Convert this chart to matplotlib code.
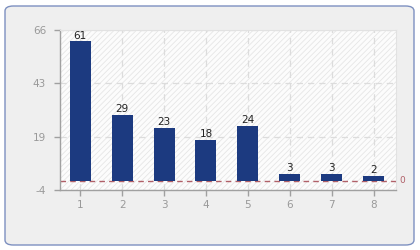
import matplotlib

matplotlib.use("Agg")
import matplotlib.pyplot as plt
from matplotlib.patches import FancyBboxPatch, Rectangle

categories = [1, 2, 3, 4, 5, 6, 7, 8]
values = [61, 29, 23, 18, 24, 3, 3, 2]
y_ticks = [-4, 19, 43, 66]

plt.rcParams["hatch.linewidth"] = 0.6
plt.rcParams["axes.unicode_minus"] = False

fig = plt.figure(figsize=(4.2, 2.5), dpi=100)

# rounded panel behind the chart
panel = FancyBboxPatch((5 / 420, 5 / 250), 409 / 420, 239 / 250,
                       boxstyle="round,pad=0,rounding_size=0.02",
                       transform=fig.transFigure, facecolor="#efefef",
                       edgecolor="#7d90c0", linewidth=1.0, zorder=-5)
fig.patches.append(panel)

ax = fig.add_axes([60 / 420, 60 / 250, 336 / 420, 160 / 250])
ax.set_zorder(2)
ax.set_facecolor("#fcfcfc")
# faint diagonal hatching in the plot area
ax.add_patch(Rectangle((0, 0), 1, 1, transform=ax.transAxes, facecolor="none",
                       edgecolor="#e6e6e6", hatch="//////", linewidth=0, zorder=0))

ax.set_xlim(0.52, 8.53)
ax.set_ylim(-4, 66)
ax.set_xticks(categories)
ax.set_yticks(y_ticks)

ax.grid(True, color="#dcdcdc", linestyle=(0, (5, 4)), linewidth=0.9, zorder=1)
ax.set_axisbelow(True)

bars = ax.bar(categories, values, width=0.5, color="#1c3a80", zorder=3)
for x, v in zip(categories, values):
    ax.text(x, v + 0.4, str(v), ha="center", va="bottom", fontsize=7.5, color="#222222", zorder=4)

# zero reference line
ax.axhline(0, color="#b06068", linestyle=(0, (4, 3)), linewidth=1.0, zorder=2)
ax.text(8.6, 0, "0", color="#b06068", fontsize=6.5, va="center", ha="left", clip_on=False)

for side in ["top", "right"]:
    ax.spines[side].set_color("#e2e2e2")
for side in ["left", "bottom"]:
    ax.spines[side].set_color("#a0a0a0")
    ax.spines[side].set_linewidth(1.0)

ax.tick_params(axis="both", colors="#a0a0a0", labelcolor="#999999", labelsize=7.5, length=4, width=1)
ax.tick_params(axis="y", pad=6)

plt.savefig("out.png", dpi=100)
